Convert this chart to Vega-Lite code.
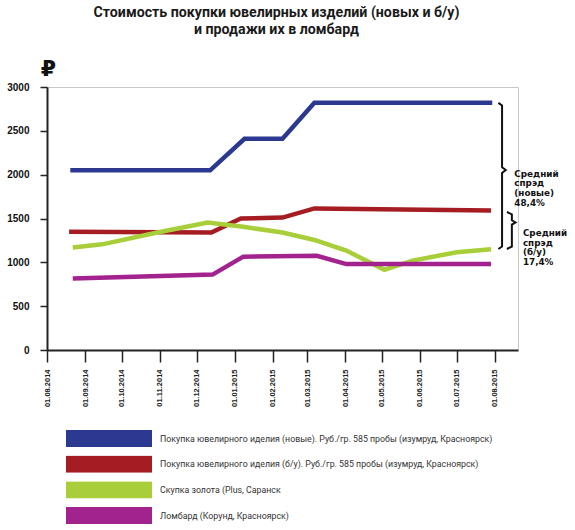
{
  "$schema": "https://vega.github.io/schema/vega-lite/v6.json",
  "width": 471,
  "height": 263,
  "autosize": "none",
  "padding": {"left": 47, "top": 87, "right": 57, "bottom": 180},
  "background": "white",
  "title": {
    "text": ["Стоимость покупки ювелирных изделий (новых и б/у)", "и продажи их в ломбард"],
    "font": "Roboto",
    "fontSize": 14.2,
    "fontWeight": "bold",
    "color": "#1a1a1a",
    "anchor": "middle",
    "frame": "group",
    "dx": -6,
    "offset": 20,
    "lineHeight": 17
  },
  "config": {
    "view": {"stroke": "#c8c8c8", "strokeWidth": 1},
    "axis": {"gridColor": "#c8c8c8", "gridWidth": 1}
  },
  "datasets": {
    "series": [
      {"series": "Покупка ювелирного иделия (новые). Руб./гр. 585 пробы (изумруд, Красноярск)", "date": "2014/08/20", "value": 2050},
      {"series": "Покупка ювелирного иделия (новые). Руб./гр. 585 пробы (изумруд, Красноярск)", "date": "2014/12/12", "value": 2050},
      {"series": "Покупка ювелирного иделия (новые). Руб./гр. 585 пробы (изумруд, Красноярск)", "date": "2015/01/09", "value": 2410},
      {"series": "Покупка ювелирного иделия (новые). Руб./гр. 585 пробы (изумруд, Красноярск)", "date": "2015/02/09", "value": 2410},
      {"series": "Покупка ювелирного иделия (новые). Руб./гр. 585 пробы (изумруд, Красноярск)", "date": "2015/03/07", "value": 2820},
      {"series": "Покупка ювелирного иделия (новые). Руб./гр. 585 пробы (изумруд, Красноярск)", "date": "2015/07/30", "value": 2820},
      {"series": "Покупка ювелирного иделия (б/у). Руб./гр. 585 пробы (изумруд, Красноярск)", "date": "2014/08/19", "value": 1350},
      {"series": "Покупка ювелирного иделия (б/у). Руб./гр. 585 пробы (изумруд, Красноярск)", "date": "2014/12/13", "value": 1340},
      {"series": "Покупка ювелирного иделия (б/у). Руб./гр. 585 пробы (изумруд, Красноярск)", "date": "2015/01/06", "value": 1500},
      {"series": "Покупка ювелирного иделия (б/у). Руб./гр. 585 пробы (изумруд, Красноярск)", "date": "2015/02/09", "value": 1510},
      {"series": "Покупка ювелирного иделия (б/у). Руб./гр. 585 пробы (изумруд, Красноярск)", "date": "2015/03/07", "value": 1615},
      {"series": "Покупка ювелирного иделия (б/у). Руб./гр. 585 пробы (изумруд, Красноярск)", "date": "2015/07/29", "value": 1590},
      {"series": "Скупка золота (Plus, Саранск", "date": "2014/08/22", "value": 1170},
      {"series": "Скупка золота (Plus, Саранск", "date": "2014/09/15", "value": 1205},
      {"series": "Скупка золота (Plus, Саранск", "date": "2014/10/30", "value": 1340},
      {"series": "Скупка золота (Plus, Саранск", "date": "2014/12/10", "value": 1455},
      {"series": "Скупка золота (Plus, Саранск", "date": "2015/01/08", "value": 1405},
      {"series": "Скупка золота (Plus, Саранск", "date": "2015/02/09", "value": 1340},
      {"series": "Скупка золота (Plus, Саранск", "date": "2015/03/07", "value": 1255},
      {"series": "Скупка золота (Plus, Саранск", "date": "2015/04/02", "value": 1135},
      {"series": "Скупка золота (Plus, Саранск", "date": "2015/05/03", "value": 915},
      {"series": "Скупка золота (Plus, Саранск", "date": "2015/05/26", "value": 1020},
      {"series": "Скупка золота (Plus, Саранск", "date": "2015/07/01", "value": 1115},
      {"series": "Скупка золота (Plus, Саранск", "date": "2015/07/29", "value": 1150},
      {"series": "Ломбард (Корунд, Красноярск)", "date": "2014/08/22", "value": 815},
      {"series": "Ломбард (Корунд, Красноярск)", "date": "2014/12/14", "value": 860},
      {"series": "Ломбард (Корунд, Красноярск)", "date": "2015/01/08", "value": 1065},
      {"series": "Ломбард (Корунд, Красноярск)", "date": "2015/03/09", "value": 1075},
      {"series": "Ломбард (Корунд, Красноярск)", "date": "2015/04/02", "value": 980},
      {"series": "Ломбард (Корунд, Красноярск)", "date": "2015/07/29", "value": 980}
    ],
    "brace": [
      {"brace": "new", "step": 1, "date": "2015/08/04", "value": 2818},
      {"brace": "new", "step": 2, "date": "2015/08/07", "value": 2790},
      {"brace": "new", "step": 3, "date": "2015/08/07", "value": 2085},
      {"brace": "new", "step": 4, "date": "2015/08/10", "value": 2053},
      {"brace": "new", "step": 5, "date": "2015/08/07", "value": 2020},
      {"brace": "new", "step": 6, "date": "2015/08/07", "value": 1180},
      {"brace": "new", "step": 7, "date": "2015/08/04", "value": 1152},
      {"brace": "used", "step": 1, "date": "2015/08/11", "value": 1574},
      {"brace": "used", "step": 2, "date": "2015/08/15", "value": 1548},
      {"brace": "used", "step": 3, "date": "2015/08/15", "value": 1480},
      {"brace": "used", "step": 4, "date": "2015/08/18", "value": 1455},
      {"brace": "used", "step": 5, "date": "2015/08/15", "value": 1430},
      {"brace": "used", "step": 6, "date": "2015/08/15", "value": 1180},
      {"brace": "used", "step": 7, "date": "2015/08/11", "value": 1152}
    ],
    "notes": [
      {"date": "2015/08/17", "value": 2013, "label": "Средний\nспрэд\n (новые)\n48,4%"},
      {"date": "2015/08/24", "value": 1335, "label": "Средний\nспрэд\n(б/у)\n17,4%"}
    ]
  },
  "layer": [
    {
      "data": {"values": [{}]},
      "mark": {"type": "rect", "fill": "white"},
      "encoding": {
        "x": {"datum": {"year": 2015, "month": 7, "date": 31}, "type": "temporal"},
        "x2": {"datum": {"year": 2015, "month": 8, "date": 18}},
        "y": {"datum": 950, "type": "quantitative"},
        "y2": {"datum": 2950}
      }
    },
    {
      "data": {"name": "series"},
      "mark": {"type": "line", "strokeWidth": 4.5},
      "encoding": {
        "x": {
          "field": "date",
          "type": "temporal",
          "scale": {"domain": [{"year": 2014, "month": 8, "date": 1}, {"year": 2015, "month": 8, "date": 20}]},
          "axis": {
            "title": null,
            "grid": false,
            "tickCount": 30,
            "values": [
              {"year": 2014, "month": 8, "date": 1}, {"year": 2014, "month": 9, "date": 1},
              {"year": 2014, "month": 10, "date": 1}, {"year": 2014, "month": 11, "date": 1},
              {"year": 2014, "month": 12, "date": 1}, {"year": 2015, "month": 1, "date": 1},
              {"year": 2015, "month": 2, "date": 1}, {"year": 2015, "month": 3, "date": 1},
              {"year": 2015, "month": 4, "date": 1}, {"year": 2015, "month": 5, "date": 1},
              {"year": 2015, "month": 6, "date": 1}, {"year": 2015, "month": 7, "date": 1},
              {"year": 2015, "month": 8, "date": 1}
            ],
            "format": "%d.%m.%Y",
            "labelAngle": -90,
            "labelFont": "Liberation Sans",
            "labelFontWeight": "bold",
            "labelFontSize": 7.5,
            "labelColor": "#222",
            "labelPadding": 7,
            "tickSize": 12,
            "tickWidth": 1.5,
            "tickColor": "#222",
            "domainColor": "#222",
            "domainWidth": 2,
            "labelOverlap": false,
            "labelBound": false,
            "labelFlush": false
          }
        },
        "y": {
          "field": "value",
          "type": "quantitative",
          "scale": {"domain": [0, 3000]},
          "axis": {
            "values": [0, 500, 1000, 1500, 2000, 2500, 3000],
            "format": "d",
            "title": "₽",
            "titleAngle": 0,
            "titleX": 1,
            "titleY": -12,
            "titleAlign": "center",
            "titleBaseline": "alphabetic",
            "titleFont": "DejaVu Sans",
            "titleFontSize": 22,
            "titleFontWeight": "bold",
            "titleColor": "#111",
            "labelFont": "Liberation Sans",
            "labelFontWeight": "bold",
            "labelFontSize": 10,
            "labelColor": "#111",
            "labelPadding": 11,
            "tickSize": 7,
            "tickWidth": 1.5,
            "tickColor": "#222",
            "domainColor": "#222",
            "domainWidth": 2
          }
        },
        "color": {
          "field": "series",
          "type": "nominal",
          "scale": {
            "domain": [
              "Покупка ювелирного иделия (новые). Руб./гр. 585 пробы (изумруд, Красноярск)",
              "Покупка ювелирного иделия (б/у). Руб./гр. 585 пробы (изумруд, Красноярск)",
              "Скупка золота (Plus, Саранск",
              "Ломбард (Корунд, Красноярск)"
            ],
            "range": ["#2b3990", "#a51d22", "#a8cf3a", "#a3238e"]
          },
          "legend": {
            "title": null,
            "orient": "none",
            "legendX": 19,
            "legendY": 343,
            "padding": 0,
            "direction": "vertical",
            "symbolType": "M-1,-0.2H1V0.2H-1Z",
            "symbolSize": 7396,
            "clipHeight": 17,
            "rowPadding": 8.7,
            "labelOffset": 8,
            "labelLimit": 0,
            "labelFont": "Roboto",
            "labelFontSize": 8.8,
            "labelColor": "#333",
            "encode": {
              "symbols": {
                "update": {
                  "fill": {"field": "value", "scale": "color"},
                  "fillOpacity": {"value": 1},
                  "strokeWidth": {"value": 0}
                }
              }
            }
          }
        }
      }
    },
    {
      "data": {"name": "brace"},
      "mark": {"type": "line", "color": "#111", "strokeWidth": 2, "interpolate": "linear"},
      "encoding": {
        "x": {"field": "date", "type": "temporal"},
        "y": {"field": "value", "type": "quantitative"},
        "detail": {"field": "brace"},
        "order": {"field": "step"}
      }
    },
    {
      "data": {"name": "notes"},
      "mark": {
        "type": "text",
        "align": "left",
        "baseline": "middle",
        "lineBreak": "\n",
        "lineHeight": 9.7,
        "font": "DejaVu Sans",
        "fontWeight": "bold",
        "fontSize": 8.8,
        "color": "#111"
      },
      "encoding": {
        "x": {"field": "date", "type": "temporal"},
        "y": {"field": "value", "type": "quantitative"},
        "text": {"field": "label"}
      }
    }
  ]
}
